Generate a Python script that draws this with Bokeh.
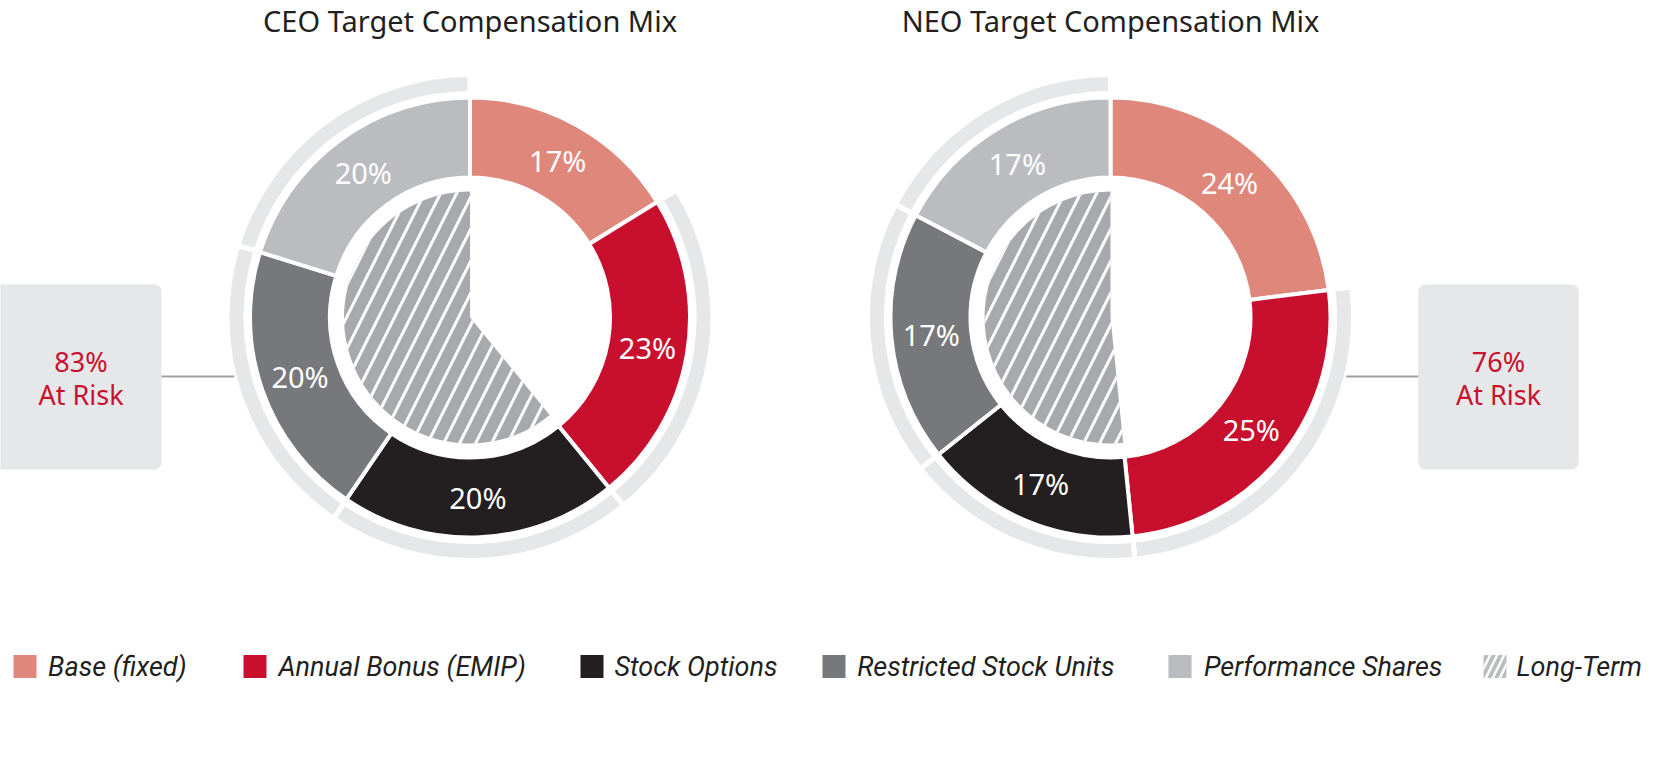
import math
from bokeh.plotting import figure
from bokeh.models import Range1d, BoxAnnotation, ColumnDataSource
from bokeh.embed import file_html
from bokeh.resources import INLINE
from bokeh.core.properties import value

# ---------------- data ----------------
categories = ["Base (fixed)", "Annual Bonus (EMIP)", "Stock Options",
              "Restricted Stock Units", "Performance Shares"]
ceo_share = [16.2, 22.9, 20.4, 20.3, 20.2]
ceo_labels = ["17%", "23%", "20%", "20%", "20%"]
neo_share = [23.0, 25.4, 15.9, 18.4, 17.3]
neo_labels = ["24%", "25%", "17%", "17%", "17%"]
at_risk_flags = [False, True, True, True, True]
long_term_flags = [False, False, True, True, True]
ceo_at_risk = "83%"
neo_at_risk = "76%"
titles = ["CEO Target Compensation Mix", "NEO Target Compensation Mix"]
legend_labels = categories + ["Long-Term"]

# ---------------- style ----------------
colors = ["#e0877c", "#c8102e", "#231f20", "#77787b", "#bbbcbf"]
BAND = "#e6e7e8"
HATCH_FILL = "#a7a9ac"
RED = "#c8102e"
DARK = "#231f20"
FONT = value("Noto Sans")
LFONT = value("Roboto")

R_OUT, R_IN = 220, 140
BAND_IN, BAND_OUT = 224, 243
R_PIE = 126
R_LABEL = 180

W, H = 1647, 747
p = figure(width=W, height=H, x_range=Range1d(0, W), y_range=Range1d(-H, 0),
           output_backend="svg", toolbar_location=None,
           x_axis_location=None, y_axis_location=None, min_border=0,
           outline_line_color=None, background_fill_color="white")
p.grid.visible = False


def bk_angle(theta_deg):
    # clockwise-from-top degrees -> bokeh radians (anticlockwise from +x)
    return math.radians(90 - theta_deg)


def draw_donut(cx, cy, shares, labels, title):
    y0 = -cy
    starts, ends, mids = [], [], []
    cum = 0.0
    for s in shares:
        t1, t2 = cum * 3.6, (cum + s) * 3.6
        starts.append(bk_angle(t2))
        ends.append(bk_angle(t1))
        mids.append((t1 + t2) / 2)
        cum += s
    n = len(shares)
    # at-risk band
    band_idx = [i for i in range(n) if at_risk_flags[i]]
    p.annular_wedge(x=[cx] * len(band_idx), y=[y0] * len(band_idx),
                    inner_radius=BAND_IN, outer_radius=BAND_OUT,
                    start_angle=[starts[i] for i in band_idx],
                    end_angle=[ends[i] for i in band_idx],
                    fill_color=BAND, line_color="white", line_width=5)
    # main ring
    src = ColumnDataSource(dict(x=[cx] * n, y=[y0] * n, s=starts, e=ends, c=colors))
    p.annular_wedge(x="x", y="y", inner_radius=R_IN, outer_radius=R_OUT,
                    start_angle="s", end_angle="e", fill_color="c",
                    line_color="white", line_width=4, source=src)
    # long-term hatched pie
    lt = [i for i in range(n) if long_term_flags[i]]
    lt_start = min(starts[i] for i in lt)
    lt_end = max(ends[i] for i in lt)
    p.wedge(x=[cx], y=[y0], radius=R_PIE, start_angle=[lt_start], end_angle=[lt_end],
            fill_color=HATCH_FILL, line_color=None,
            hatch_pattern="/", hatch_color="white", hatch_weight=3, hatch_scale=32)
    # labels
    lx = [cx + R_LABEL * math.sin(math.radians(m)) for m in mids]
    ly = [-(cy - R_LABEL * math.cos(math.radians(m))) for m in mids]
    p.text(x=lx, y=ly, text=labels, text_color="white", text_font=FONT,
           text_font_size="29px", text_align="center", text_baseline="middle")
    # title
    p.text(x=[cx], y=[-20], text=[title], text_color=DARK, text_font=FONT,
           text_font_size="29px", text_align="center", text_baseline="middle")


CEO_C = (469.5, 317)
NEO_C = (1110, 317)
draw_donut(CEO_C[0], CEO_C[1], ceo_share, ceo_labels, titles[0])
draw_donut(NEO_C[0], NEO_C[1], neo_share, neo_labels, titles[1])

# at-risk boxes
LINE_Y = 376
for (l, r), txt, (cx, cy), side in [((-10, 161), ceo_at_risk, CEO_C, -1),
                                     ((1417.7, 1578.3), neo_at_risk, NEO_C, 1)]:
    p.add_layout(BoxAnnotation(left=l, right=r, top=-284, bottom=-469,
                               fill_color=BAND, fill_alpha=1, line_color=None,
                               border_radius=7, level="underlay"))
    edge = cx + side * math.sqrt(BAND_OUT ** 2 - (LINE_Y - cy) ** 2)
    x_box = r if side < 0 else l
    p.line(x=[x_box, edge], y=[-LINE_Y, -LINE_Y], line_color="#a0a0a0", line_width=2)
    mx = 80.5 if side < 0 else (l + r) / 2
    p.text(x=[mx, mx], y=[-361, -394], text=[txt, "At Risk"], text_color=RED,
           text_font=FONT, text_font_size="27px", text_align="center",
           text_baseline="middle")

# legend
sq_left = [13, 243, 580, 822, 1168, 1483]
txt_left = [47.6, 278, 614, 856.7, 1203.4, 1516]
LEG_Y = -666
p.rect(x=[s + 11.5 for s in sq_left[:5]], y=[LEG_Y] * 5, width=23, height=23,
       fill_color=colors, line_color=None)
p.rect(x=[sq_left[5] + 11.5], y=[LEG_Y], width=23, height=23,
       fill_color="#bbbcbf", line_color=None,
       hatch_pattern="/", hatch_color="white", hatch_weight=2.5, hatch_scale=14)
p.text(x=txt_left, y=[LEG_Y] * 6, text=legend_labels, text_color=DARK,
       text_font=LFONT, text_font_style="italic", text_font_size="27px",
       text_align="left", text_baseline="middle")

open("out.html", "w").write(file_html(p, INLINE))
